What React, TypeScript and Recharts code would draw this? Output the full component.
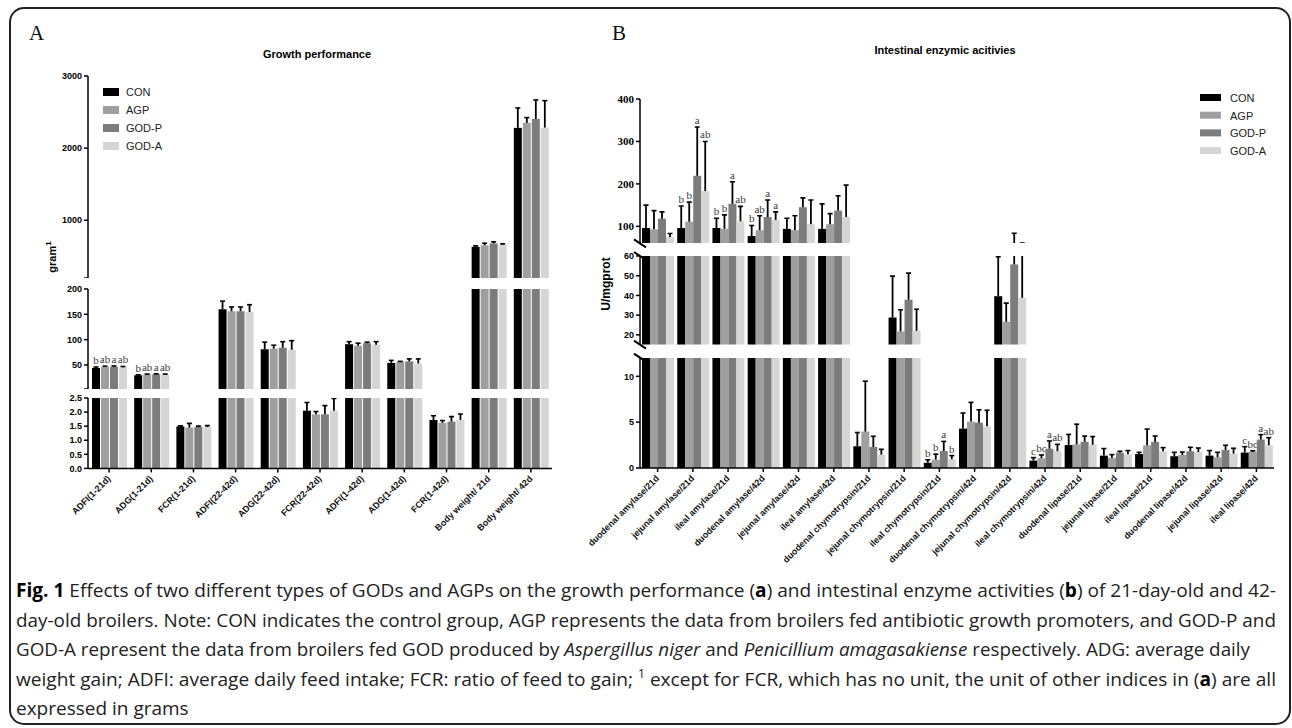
import React from "react";
import { Bar, BarChart, ErrorBar, XAxis, YAxis } from "recharts";

const SANS = "'Liberation Sans', Arial, Helvetica, sans-serif";
const SERIF = "'Liberation Serif', 'Times New Roman', serif";

const seriesNames = ["CON", "AGP", "GOD-P", "GOD-A"];
const seriesColors = ["#000000", "#9f9f9f", "#7c7c7c", "#d5d5d5"];

// A: growth performance
const growthCategories = [
  "ADFI(1-21d)",
  "ADG(1-21d)",
  "FCR(1-21d)",
  "ADFI(22-42d)",
  "ADG(22-42d)",
  "FCR(22-42d)",
  "ADFI(1-42d)",
  "ADG(1-42d)",
  "FCR(1-42d)",
  "Body weight/ 21d",
  "Body weight/ 42d",
];
const growthCON = [44, 29.5, 1.49, 160, 81, 2.05, 91, 54, 1.72, 632, 2281];
const growthAGP = [46, 31, 1.45, 156, 82, 1.92, 88, 56, 1.62, 654, 2350];
const growthGODP = [46.5, 31.5, 1.47, 156, 84, 1.92, 93, 57, 1.66, 678, 2405];
const growthGODA = [45.5, 31, 1.47, 154.5, 80, 2.05, 90, 53, 1.72, 660, 2285];
const growthCONErr = [2, 1, 0.02, 16, 14, 0.29, 5, 5, 0.15, 14, 276];
const growthAGPErr = [1.5, 1, 0.15, 8.5, 7, 0.1, 5, 1, 0.08, 28, 73];
const growthGODPErr = [1.5, 1, 0.03, 8.5, 12, 0.31, 2, 5, 0.18, 23, 263];
const growthGODAErr = [1.5, 1, 0.05, 14.5, 18, 0.43, 6, 9, 0.21, 14, 373];
const growthCONLetters = ["b", "b", "", "", "", "", "", "", "", "", ""];
const growthAGPLetters = ["ab", "ab", "", "", "", "", "", "", "", "", ""];
const growthGODPLetters = ["a", "a", "", "", "", "", "", "", "", "", ""];
const growthGODALetters = ["ab", "ab", "", "", "", "", "", "", "", "", ""];

// B: intestinal enzyme activities
const enzymeCategories = [
  "duodenal amylase/21d",
  "jejunal amylase/21d",
  "ileal amylase/21d",
  "duodenal amylase/42d",
  "jejunal amylase/42d",
  "ileal amylase/42d",
  "duodenal chymotrypsin/21d",
  "jejunal chymotrypsin/21d",
  "ileal chymotrypsin/21d",
  "duodenal chymotrypsin/42d",
  "jejunal chymotrypsin/42d",
  "ileal chymotrypsin/42d",
  "duodenal lipase/21d",
  "jejunal lipase/21d",
  "ileal lipase/21d",
  "duodenal lipase/42d",
  "jejunal lipase/42d",
  "ileal lipase/42d",
];
const enzymeCON = [96, 96, 96, 77, 94, 94, 2.37, 28.8, 0.57, 4.3, 39.6, 0.8, 2.5, 1.35, 1.53, 1.28, 1.35, 1.68];
const enzymeAGP = [93, 111, 94, 91, 91, 105, 3.97, 21.7, 0.91, 5.06, 26.6, 1.06, 2.58, 1.09, 2.48, 1.42, 1.17, 1.79];
const enzymeGODP = [118, 219, 153, 122, 145, 137, 2.3, 37.8, 1.85, 4.95, 55.7, 2.1, 2.86, 1.68, 2.84, 1.82, 1.96, 3.1];
const enzymeGODA = [75, 183, 112, 115, 105, 122, 1.46, 22, 0.95, 4.55, 38.8, 1.82, 2.53, 1.5, 1.82, 1.75, 1.57, 2.48];
const enzymeCONErr = [54, 52, 23, 25, 25, 59, 1.5, 21, 0.33, 1.7, 20, 0.33, 1.16, 0.77, 0.18, 0.43, 0.55, 0.65];
const enzymeAGPErr = [44, 46, 33, 34, 34, 25, 5.5, 11, 0.6, 2.1, 9.5, 0.36, 2.2, 0.37, 1.77, 0.32, 0.54, 0.08];
const enzymeGODPErr = [16, 115, 52, 40, 22, 35, 1.16, 13.5, 1.05, 1.4, 28, 0.85, 0.62, 0.14, 0.65, 0.44, 0.52, 0.54];
const enzymeGODAErr = [8, 117, 35, 19, 57, 75, 0.58, 11, 0.4, 1.75, 22, 0.76, 0.9, 0.4, 0.4, 0.43, 0.58, 0.83];
const enzymeCONLetters = ["", "b", "b", "b", "", "", "", "", "b", "", "", "c", "", "", "", "", "", "c"];
const enzymeAGPLetters = ["", "b", "b", "ab", "", "", "", "", "b", "", "", "bc", "", "", "", "", "", "bc"];
const enzymeGODPLetters = ["", "a", "a", "a", "", "", "", "", "a", "", "", "a", "", "", "", "", "", "a"];
const enzymeGODALetters = ["", "ab", "ab", "a", "", "", "", "", "b", "", "", "ab", "", "", "", "", "", "ab"];

const growthValues = [growthCON, growthAGP, growthGODP, growthGODA];
const growthErrors = [growthCONErr, growthAGPErr, growthGODPErr, growthGODAErr];
const growthLetters = [growthCONLetters, growthAGPLetters, growthGODPLetters, growthGODALetters];
const enzymeValues = [enzymeCON, enzymeAGP, enzymeGODP, enzymeGODA];
const enzymeErrors = [enzymeCONErr, enzymeAGPErr, enzymeGODPErr, enzymeGODAErr];
const enzymeLetters = [enzymeCONLetters, enzymeAGPLetters, enzymeGODPLetters, enzymeGODALetters];

const SlantTick = (props: any) => {
  const { x, y, payload } = props;
  return (
    <g transform={`translate(${x},${y})`}>
      <text
        x={0}
        y={0}
        dx={-2}
        dy={5}
        textAnchor="end"
        transform="rotate(-45)"
        fontSize={9}
        fontWeight="bold"
        fontFamily={SANS}
        fill="#111"
      >
        {payload.value}
      </text>
    </g>
  );
};

// bar rect (kept inside the slice) + top cap of the error bar + significance letter
const barShape = (k: number, lo: number, hi: number, plotTop: number, plotH: number) => (props: any) => {
  const { x, y, width, height, fill, payload, background } = props;
  const bgTop = background && background.height ? background.y : plotTop;
  const bgH = background && background.height ? background.height : plotH;
  const top = Math.max(Math.min(y, y + height), bgTop);
  const bottom = Math.min(Math.max(y, y + height), bgTop + bgH);
  const cap = payload[`c${k}`];
  const letter = payload[`l${k}`];
  const cx = x + width / 2;
  const yc = cap == null ? null : bgTop + (bgH * (hi - cap)) / (hi - lo);
  return (
    <g>
      {bottom > top ? <rect x={x} y={top} width={width} height={bottom - top} fill={fill} /> : null}
      {yc != null ? <line x1={cx - 2.5} y1={yc} x2={cx + 2.5} y2={yc} stroke="#000" strokeWidth={1.6} /> : null}
      {yc != null && letter ? (
        <text x={cx} y={yc - 3} textAnchor="middle" fontSize={11} fontFamily={SERIF} fill="#3a3a3a">
          {letter}
        </text>
      ) : null}
    </g>
  );
};

type SegmentProps = {
  cats: string[];
  vals: number[][];
  errs: number[][];
  lets: string[][];
  lo: number;
  hi: number;
  ticks: number[];
  fmt: (v: number) => string;
  left: number;
  top: number;
  plotH: number;
  width: number;
  yWidth: number;
  right: number;
  barSize: number;
  barGap: number;
  xHeight?: number;
  tickFont: any;
};

// one slice of a broken y axis: values are clipped to [lo, hi]
const Segment: React.FC<SegmentProps> = (p) => {
  const mt = 8;
  const xh = p.xHeight || 0;
  const rows = p.cats.map((name, i) => {
    const row: any = { name };
    p.vals.forEach((series, k) => {
      const v = series[i];
      const e = p.errs[k][i];
      const cv = Math.min(Math.max(v, p.lo), p.hi);
      const a = Math.max(v, p.lo);
      const b = Math.min(v + e, p.hi);
      const end = v + e;
      row[`v${k}`] = cv;
      row[`e${k}`] = v <= p.hi && b > a ? [0, b - cv] : null;
      row[`c${k}`] = v <= p.hi && e > 0 && end > p.lo && end <= p.hi ? end : null;
      row[`l${k}`] = v > p.lo && v <= p.hi ? p.lets[k][i] : "";
    });
    return row;
  });

  return (
    <div style={{ position: "absolute", left: p.left, top: p.top - mt }}>
      <BarChart
        width={p.width}
        height={mt + p.plotH + xh}
        data={rows}
        margin={{ top: mt, right: p.right, left: 0, bottom: 0 }}
        barSize={p.barSize}
        barGap={p.barGap}
      >
        <XAxis
          dataKey="name"
          hide={!xh}
          height={xh}
          interval={0}
          tick={<SlantTick />}
          tickSize={4}
          tickLine={{ stroke: "#000", strokeWidth: 1.5 }}
          axisLine={{ stroke: "#000", strokeWidth: 1.5 }}
        />
        <YAxis
          type="number"
          domain={[p.lo, p.hi]}
          ticks={p.ticks}
          allowDataOverflow
          interval={0}
          width={p.yWidth}
          tickFormatter={p.fmt}
          tick={p.tickFont}
          tickSize={4}
          tickLine={{ stroke: "#000", strokeWidth: 1.5 }}
          axisLine={{ stroke: "#000", strokeWidth: 1.5 }}
        />
        {seriesNames.map((s, k) => (
          <Bar
            key={s}
            dataKey={`v${k}`}
            name={s}
            fill={seriesColors[k]}
            isAnimationActive={false}
            shape={barShape(k, p.lo, p.hi, mt, p.plotH)}
          >
            <ErrorBar dataKey={`e${k}`} width={0} stroke="#000" strokeWidth={1.8} isAnimationActive={false} />
          </Bar>
        ))}
      </BarChart>
    </div>
  );
};

const sansTick = { fontSize: 9, fontWeight: "bold", fill: "#000", fontFamily: SANS };
const serifTick = { fontSize: 11, fontWeight: "bold", fill: "#000", fontFamily: SERIF };

const captionLines: [string, string][][] = [
  [
    ["Fig. 1", "b"],
    [" Effects of two different types of GODs and AGPs on the growth performance (", ""],
    ["a", "b"],
    [") and intestinal enzyme activities (", ""],
    ["b", "b"],
    [") of 21-day-old and 42-", ""],
  ],
  [["day-old broilers. Note: CON indicates the control group, AGP represents the data from broilers fed antibiotic growth promoters, and GOD-P and", ""]],
  [
    ["GOD-A represent the data from broilers fed GOD produced by ", ""],
    ["Aspergillus niger", "i"],
    [" and ", ""],
    ["Penicillium amagasakiense", "i"],
    [" respectively. ADG: average daily", ""],
  ],
  [
    ["weight gain; ADFI: average daily feed intake; FCR: ratio of feed to gain; ", ""],
    ["1", "sup"],
    [" except for FCR, which has no unit, the unit of other indices in (", ""],
    ["a", "b"],
    [") are all", ""],
  ],
  [["expressed in grams", ""]],
];
const captionWidths = [1260, 1260, 1234, 1260, 0];

const App: React.FC = () => {
  const A = { left: 0, width: 560, yWidth: 88, right: 8, barSize: 8, barGap: 1 };
  const B = { left: 560, width: 720, yWidth: 80, right: 6, barSize: 8, barGap: 0 };

  return (
    <div style={{ position: "absolute", left: 0, top: 0, width: 1292, height: 728, background: "#fff" }}>
      <svg width={1292} height={728} style={{ position: "absolute", left: 0, top: 0 }}>
        <rect x={10} y={8} width={1280} height={716} rx={14} fill="none" stroke="#222" strokeWidth={2} />
        <text x={29} y={40} fontSize={21} fontFamily={SERIF} fill="#111">A</text>
        <text x={612} y={40} fontSize={21} fontFamily={SERIF} fill="#111">B</text>
        <text x={317} y={58} textAnchor="middle" fontSize={11} fontWeight="bold" fontFamily={SANS}>
          Growth performance
        </text>
        <text x={945} y={54} textAnchor="middle" fontSize={11} fontWeight="bold" fontFamily={SANS}>
          Intestinal enzymic acitivies
        </text>
        <text transform="translate(56,257) rotate(-90)" textAnchor="middle" fontSize={11} fontWeight="bold" fontFamily={SANS}>
          gram<tspan fontSize={8} dy={-5}>1</tspan>
        </text>
        <text transform="translate(610,284) rotate(-90)" textAnchor="middle" fontSize={12} fontWeight="bold" fontFamily={SANS}>
          U/mgprot
        </text>
        {seriesNames.map((s, k) => (
          <g key={`la${s}`}>
            <rect x={103} y={88 + k * 18} width={16} height={8} fill={seriesColors[k]} />
            <text x={126} y={96 + k * 18} fontSize={11} fontFamily={SANS} fill="#222">{s}</text>
          </g>
        ))}
        {seriesNames.map((s, k) => (
          <g key={`lb${s}`}>
            <rect x={1200} y={94 + k * 17.7} width={21} height={7} fill={seriesColors[k]} />
            <text x={1230} y={102 + k * 17.7} fontSize={11} fontFamily={SANS} fill="#222">{s}</text>
          </g>
        ))}
        {[243.3, 256, 344.7, 357.7].map((y) => (
          <line key={y} x1={634} y1={y - 4} x2={646} y2={y + 4} stroke="#000" strokeWidth={2} />
        ))}
        {captionLines.map((line, i) => (
          <text
            key={i}
            x={16}
            y={597 + i * 29.5}
            fontSize={19}
            fontFamily="'Open Sans', 'Noto Sans', sans-serif"
            fill="#222"
            {...(captionWidths[i] ? { textLength: captionWidths[i], lengthAdjust: "spacingAndGlyphs" } : {})}
          >
            {line.map(([t, st], j) =>
              st === "sup" ? (
                <tspan key={j} fontSize={12} dy={-8}>{t}</tspan>
              ) : (
                <tspan
                  key={j}
                  dy={j > 0 && line[j - 1][1] === "sup" ? 8 : 0}
                  fontWeight={st === "b" ? "bold" : "normal"}
                  fontStyle={st === "i" ? "italic" : "normal"}
                  fill={st === "b" ? "#000" : "#222"}
                >
                  {t}
                </tspan>
              )
            )}
          </text>
        ))}
      </svg>

      {/* panel A: three slices of the broken axis */}
      <Segment
        {...A}
        cats={growthCategories}
        vals={growthValues}
        errs={growthErrors}
        lets={growthLetters}
        lo={200}
        hi={3000}
        ticks={[200, 1000, 2000, 3000]}
        fmt={(v) => (v === 200 ? "" : String(v))}
        top={76}
        plotH={202}
        tickFont={sansTick}
      />
      <Segment
        {...A}
        cats={growthCategories}
        vals={growthValues}
        errs={growthErrors}
        lets={growthLetters}
        lo={2.5}
        hi={200}
        ticks={[2.5, 50, 100, 150, 200]}
        fmt={(v) => (v === 2.5 ? "" : String(v))}
        top={288.7}
        plotH={100}
        tickFont={sansTick}
      />
      <Segment
        {...A}
        cats={growthCategories}
        vals={growthValues}
        errs={growthErrors}
        lets={growthLetters}
        lo={0}
        hi={2.5}
        ticks={[0, 0.5, 1, 1.5, 2, 2.5]}
        fmt={(v) => v.toFixed(1)}
        top={398.3}
        plotH={70.4}
        xHeight={95}
        tickFont={sansTick}
      />

      {/* panel B */}
      <Segment
        {...B}
        cats={enzymeCategories}
        vals={enzymeValues}
        errs={enzymeErrors}
        lets={enzymeLetters}
        lo={60}
        hi={400}
        ticks={[100, 200, 300, 400]}
        fmt={(v) => String(v)}
        top={99}
        plotH={144.3}
        tickFont={serifTick}
      />
      <Segment
        {...B}
        cats={enzymeCategories}
        vals={enzymeValues}
        errs={enzymeErrors}
        lets={enzymeLetters}
        lo={15}
        hi={60}
        ticks={[20, 30, 40, 50, 60]}
        fmt={(v) => String(v)}
        top={256}
        plotH={88.7}
        tickFont={sansTick}
      />
      <Segment
        {...B}
        cats={enzymeCategories}
        vals={enzymeValues}
        errs={enzymeErrors}
        lets={enzymeLetters}
        lo={0}
        hi={12}
        ticks={[0, 5, 10]}
        fmt={(v) => String(v)}
        top={357.7}
        plotH={110}
        xHeight={100}
        tickFont={sansTick}
      />
    </div>
  );
};

export default App;
